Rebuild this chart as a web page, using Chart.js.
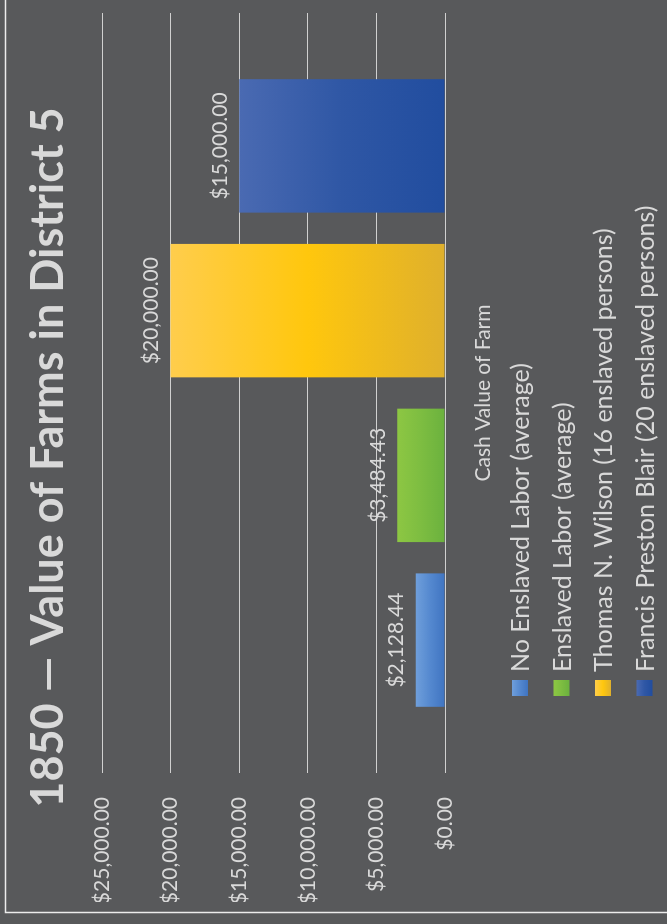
<!DOCTYPE html>
<html>
<head>
<meta charset="utf-8">
<title>1850 — Value of Farms in District 5</title>
<script src="https://cdn.jsdelivr.net/npm/chart.js@4.4.1/dist/chart.umd.min.js"></script>
<style>
  html, body { margin: 0; padding: 0; background: #58595b; overflow: hidden; }
  body { width: 667px; height: 924px; position: relative; }
  /* chart is laid out landscape, then stood on its side */
  #wrap {
    position: absolute; left: 0; top: 0;
    width: 924px; height: 667px;
    transform-origin: 0 0;
    transform: translate(0, 924px) rotate(-90deg);
  }
  canvas { display: block; }
</style>
</head>
<body>
<div id="wrap"><canvas id="farmChart" width="924" height="667"></canvas></div>
<script>
const categories = ['Cash Value of Farm'];
const seriesLabels = [
  'No Enslaved Labor (average)',
  'Enslaved Labor (average)',
  'Thomas N. Wilson (16 enslaved persons)',
  'Francis Preston Blair (20 enslaved persons)'
];
const noEnslavedLabor = [2128.44];
const enslavedLabor = [3484.43];
const thomasWilson = [20000.00];
const francisBlair = [15000.00];
const yTicks = [0, 5000, 10000, 15000, 20000, 25000];

const textColor = '#d9d9d9';
const fontFamily = 'Lato, "Open Sans", sans-serif';
const labelSize = 21;

// light -> base -> dark, from the top of a bar down to its base
const fills = [
  ['#6f9fdb', '#5488cf', '#3f74c1'],
  ['#8dc743', '#7dbd41', '#6bb13e'],
  ['#ffcd4c', '#ffc70d', '#dfb02c'],
  ['#4a6ab2', '#2f57a5', '#214d9f']
];

function money(v) {
  return '$' + Number(v).toLocaleString('en-US', { minimumFractionDigits: 2, maximumFractionDigits: 2 });
}

function verticalGradient(ctx, top, bottom, stops) {
  const g = ctx.createLinearGradient(0, top, 0, bottom);
  g.addColorStop(0, stops[0]);
  g.addColorStop(0.5, stops[1]);
  g.addColorStop(1, stops[2]);
  return g;
}

function barFill(stops) {
  return (context) => {
    const chart = context.chart;
    if (!chart.chartArea || context.type !== 'data') return stops[1];
    const y = chart.scales.y;
    return verticalGradient(chart.ctx, y.getPixelForValue(context.raw), y.getPixelForValue(0), stops);
  };
}

// slide background and the thin frame around it
const backdrop = {
  id: 'backdrop',
  beforeDraw(chart) {
    const { ctx, width, height } = chart;
    ctx.save();
    ctx.fillStyle = '#58595b';
    ctx.fillRect(0, 0, width, height);
    ctx.strokeStyle = '#ececec';
    ctx.lineWidth = 1.5;
    ctx.beginPath();
    ctx.moveTo(width, 5.5);
    ctx.lineTo(11.5, 5.5);
    ctx.lineTo(11.5, height);
    ctx.stroke();
    ctx.restore();
  }
};

// value printed above each bar
const barValueLabels = {
  id: 'barValueLabels',
  afterDatasetsDraw(chart) {
    const { ctx } = chart;
    ctx.save();
    ctx.font = labelSize + 'px ' + fontFamily;
    ctx.fillStyle = textColor;
    ctx.textAlign = 'center';
    ctx.textBaseline = 'alphabetic';
    chart.data.datasets.forEach((ds, i) => {
      chart.getDatasetMeta(i).data.forEach((bar, j) => {
        ctx.fillText(money(ds.data[j]), bar.x, bar.y - 12.5);
      });
    });
    ctx.restore();
  }
};

// legend stacked one entry per line under the axis label
const stackedLegend = {
  id: 'stackedLegend',
  afterDraw(chart) {
    const { ctx } = chart;
    const size = 25;
    ctx.save();
    ctx.font = size + 'px ' + fontFamily;
    ctx.textAlign = 'left';
    ctx.textBaseline = 'alphabetic';
    chart.data.datasets.forEach((ds, i) => {
      const cy = 520 + i * 41.5;
      ctx.fillStyle = verticalGradient(ctx, cy - 8, cy + 8, fills[i]);
      ctx.fillRect(228, cy - 8, 16, 16);
      ctx.fillStyle = textColor;
      ctx.fillText(ds.label, 252, cy + size * 0.36);
    });
    ctx.restore();
  }
};

Chart.defaults.font.family = fontFamily;
Chart.defaults.color = textColor;

const seriesValues = [noEnslavedLabor, enslavedLabor, thomasWilson, francisBlair];

new Chart(document.getElementById('farmChart'), {
  type: 'bar',
  data: {
    labels: categories,
    datasets: seriesLabels.map((label, i) => ({
      label: label,
      data: seriesValues[i],
      backgroundColor: barFill(fills[i]),
      borderWidth: 0
    }))
  },
  options: {
    responsive: false,
    animation: false,
    devicePixelRatio: 1,
    layout: { padding: { left: 22, right: 13, top: 0, bottom: 0 } },
    datasets: { bar: { categoryPercentage: 0.867, barPercentage: 0.81 } },
    plugins: {
      legend: { display: false },
      tooltip: { enabled: false },
      title: {
        display: true,
        text: '1850 — Value of Farms in District 5',
        color: textColor,
        font: { size: 45, weight: 'bold', lineHeight: 1.2 },
        padding: { top: 21, bottom: 27 }
      }
    },
    scales: {
      x: {
        grid: { display: false },
        border: { display: false },
        ticks: { color: textColor, font: { size: labelSize }, padding: 18 },
        afterFit(scale) { scale.height = 222; }
      },
      y: {
        min: 0,
        max: 25000,
        afterBuildTicks(scale) { scale.ticks = yTicks.map(v => ({ value: v })); },
        ticks: { color: textColor, font: { size: labelSize }, padding: 24, callback: v => money(v) },
        grid: { color: '#d0d0d0', lineWidth: 1, drawTicks: false },
        border: { display: false },
        afterFit(scale) { scale.width = 129; }
      }
    }
  },
  plugins: [backdrop, barValueLabels, stackedLegend]
});
</script>
</body>
</html>
